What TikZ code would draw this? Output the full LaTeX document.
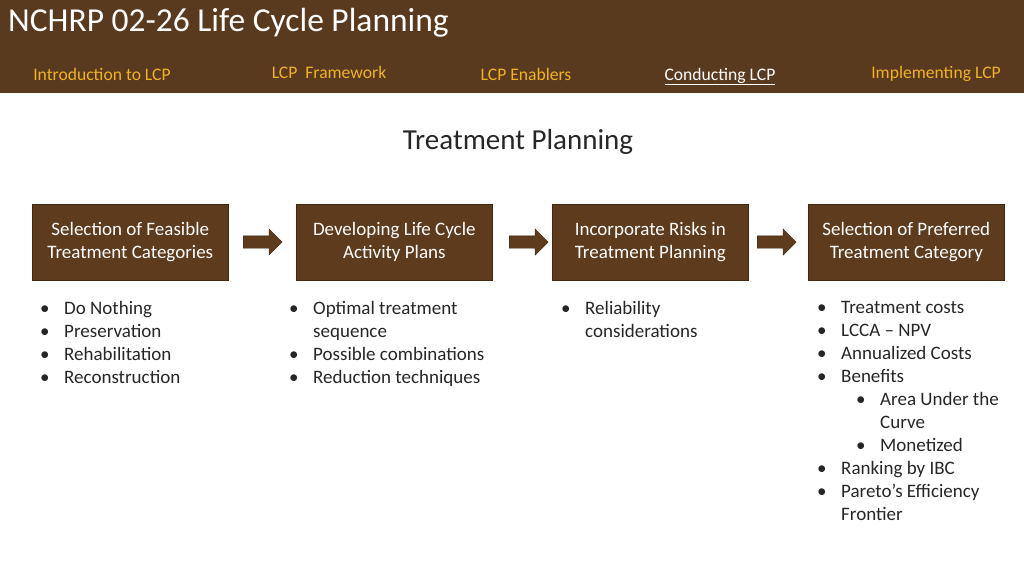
\documentclass[tikz,border=0pt]{standalone}
\usepackage{fontspec}
\setmainfont{Carlito}
\usetikzlibrary{shapes.arrows}
\definecolor{hdr}{HTML}{5A3A1E}
\definecolor{bx}{HTML}{5E3B1D}
\definecolor{nav}{HTML}{F0B323}
\definecolor{txt}{HTML}{262626}
\begin{document}
\begin{tikzpicture}[x=1pt,y=-1pt,
  box/.style={fill=bx,draw=bx!70!black,line width=0.6pt,minimum width=196pt,minimum height=76pt,text=white,align=center,font=\fontsize{19}{23}\selectfont,anchor=north west,inner sep=2pt},
  arr/.style={single arrow,fill=bx,draw=bx!60!black,minimum height=39pt,single arrow head extend=7pt,inner sep=6pt,anchor=west},
  navt/.style={text=nav,font=\fontsize{17.6}{19}\selectfont,anchor=base},
  lst/.style={anchor=north west,text=txt,align=left,font=\fontsize{19}{23}\selectfont,inner sep=0pt}]
\useasboundingbox (0,0) rectangle (1024,576);
\fill[hdr] (0,0) rectangle (1024,93);
\node[anchor=base west,text=white,font=\fontsize{33.5}{36}\selectfont,inner sep=0] (title) at (8,31) {NCHRP 02-26 Life Cycle Planning};
\node[navt] (n1) at (102,80) {Introduction to LCP};
\node[navt] (n2) at (329,78) {LCP\ \ Framework};
\node[navt] (n3) at (526,80) {LCP Enablers};
\node[navt,text=white] (n4) at (720,80) {\underline{Conducting LCP}};
\node[navt] (n5) at (936,78) {Implementing LCP};
\node[text=txt,font=\fontsize{29}{32}\selectfont] (h) at (518,142) {Treatment Planning};
\node[box] (b1) at (32,204) {Selection of Feasible\\Treatment Categories};
\node[box] (b2) at (296,204) {Developing Life Cycle\\Activity Plans};
\node[box] (b3) at (552,204) {Incorporate Risks in\\Treatment Planning};
\node[box] (b4) at (808,204) {Selection of Preferred\\Treatment Category};
\node[arr] (a1) at (243,242) {};
\node[arr] (a2) at (509,242) {};
\node[arr] (a3) at (757,242) {};
\def\bl{\makebox[24pt][l]{\textbullet}}
\node[lst] (l1) at (40,301) {\bl Do Nothing\\\bl Preservation\\\bl Rehabilitation\\\bl Reconstruction};
\node[lst] (l2) at (289,301) {\bl Optimal treatment\\\hspace*{24pt}sequence\\\bl Possible combinations\\\bl Reduction techniques};
\node[lst] (l3) at (561,301) {\bl Reliability\\\hspace*{24pt}considerations};
\node[lst] (l4) at (817,301) {\bl Treatment costs\\\bl LCCA -- NPV\\\bl Annualized Costs\\\bl Benefits\\\hspace*{39pt}\bl Area Under the\\\hspace*{63pt}Curve\\\hspace*{39pt}\bl Monetized\\\bl Ranking by IBC\\\bl Pareto’s Efficiency\\\hspace*{24pt}Frontier};
\end{tikzpicture}
\end{document}
